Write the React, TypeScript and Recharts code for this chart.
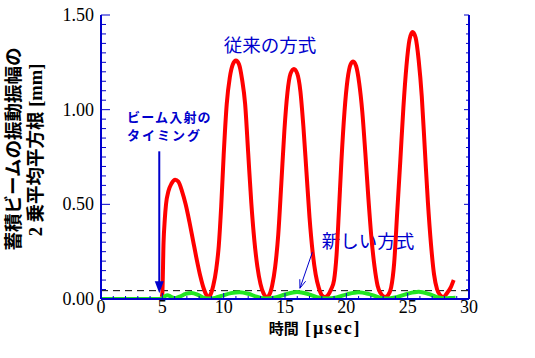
import { LineChart, Line, XAxis, YAxis, ReferenceLine, Customized } from 'recharts';

// 従来の方式 (red)
const redT = [4.95, 5.0, 5.1, 5.2, 5.3, 5.5, 5.75, 6.05, 6.3, 6.6, 6.9, 7.2, 7.5, 7.8, 8.1, 8.4, 8.6, 8.75,
  8.9, 9.15, 9.4, 9.6, 9.8, 10.0, 10.25, 10.5, 10.75, 11.0, 11.25, 11.5, 11.75, 12.0, 12.25, 12.5, 12.75, 13.0, 13.25, 13.5,
  13.7, 13.95, 14.2, 14.45, 14.7, 14.95, 15.2, 15.45, 15.73, 16.0, 16.25, 16.5, 16.75, 17.0, 17.25, 17.5, 17.75, 18.0, 18.25,
  18.5, 18.75, 19.0, 19.2, 19.4, 19.6, 19.85, 20.1, 20.35, 20.56, 20.8, 21.05, 21.3, 21.55, 21.8, 22.05, 22.3, 22.55, 22.8, 23.15,
  23.4, 23.65, 23.9, 24.15, 24.4, 24.65, 24.9, 25.15, 25.4, 25.65, 25.9, 26.15, 26.4, 26.65, 26.9, 27.15, 27.4, 27.65, 27.9,
  28.2, 28.5, 28.75];
const redV = [0.01, 0.03, 0.30, 0.42, 0.50, 0.57, 0.61, 0.63, 0.62, 0.57, 0.50, 0.41, 0.31, 0.21, 0.12, 0.05, 0.02, 0.01,
  0.02, 0.07, 0.16, 0.28, 0.49, 0.76, 1.03, 1.17, 1.24, 1.26, 1.24, 1.16, 1.03, 0.77, 0.51, 0.31, 0.17, 0.08, 0.03, 0.01,
  0.02, 0.07, 0.17, 0.34, 0.61, 0.89, 1.09, 1.19, 1.215, 1.19, 1.10, 0.91, 0.67, 0.43, 0.25, 0.13, 0.06, 0.02, 0.01,
  0.02, 0.05, 0.10, 0.23, 0.47, 0.73, 0.99, 1.16, 1.24, 1.255, 1.23, 1.14, 0.99, 0.77, 0.53, 0.32, 0.17, 0.07, 0.03, 0.01,
  0.02, 0.06, 0.19, 0.46, 0.73, 1.01, 1.23, 1.37, 1.41, 1.38, 1.26, 1.07, 0.79, 0.51, 0.29, 0.13, 0.05, 0.02, 0.01,
  0.03, 0.06, 0.10];

// 新しい方式 (green)
const greenT = [0, 4.9, 5.1, 5.4, 5.7, 6.0, 6.4, 6.9, 7.4, 7.9, 8.4, 8.8, 9.3, 9.9, 10.6, 11.3, 12.0, 12.7, 13.5,
  14.2, 15.0, 16.0, 16.8, 17.6, 18.4, 19.2, 20.1, 21.0, 21.8, 22.6, 23.3, 24.1, 25.0, 25.9, 26.7, 27.4, 27.9, 28.4, 28.9];
const greenV = [0, 0, 0.01, 0.02, 0.012, 0.004, 0.012, 0.027, 0.032, 0.022, 0.006, 0.002, 0.006, 0.018, 0.031, 0.036, 0.028, 0.012, 0.002,
  0.008, 0.024, 0.037, 0.028, 0.01, 0.002, 0.008, 0.026, 0.036, 0.027, 0.01, 0.002, 0.01, 0.028, 0.038, 0.027, 0.01, 0.004, 0.005, 0.006];

const threshold = 0.044;

const xTicks = [0, 1, 2, 3, 4, 5, 6, 7, 8, 9, 10, 11, 12, 13, 14, 15, 16, 17, 18, 19, 20, 21, 22, 23, 24, 25, 26, 27, 28, 29, 30];
const yTicks = [0, 0.05, 0.1, 0.15, 0.2, 0.25, 0.3, 0.35, 0.4, 0.45, 0.5, 0.55, 0.6, 0.65, 0.7, 0.75, 0.8, 0.85, 0.9, 0.95,
  1.0, 1.05, 1.1, 1.15, 1.2, 1.25, 1.3, 1.35, 1.4, 1.45, 1.5];

const redData = redT.map((t, i) => ({ t, v: redV[i] }));
const greenData = greenT.map((t, i) => ({ t, v: greenV[i] }));

const BLUE = '#0000cc';
const SERIF = "'Liberation Serif', 'Times New Roman', 'Noto Sans CJK JP', serif";
const CJK = "'Noto Sans CJK JP', sans-serif";

const isMajor = (v: number, step: number) => Math.abs(v / step - Math.round(v / step)) < 1e-6;

const LeftTick = (p: any) => {
  const v = p.payload.value;
  const major = isMajor(v, 0.5);
  return (
    <g>
      <line x1={p.x} y1={p.y} x2={p.x + (major ? 9 : 5)} y2={p.y} stroke={BLUE} />
      {major && (
        <text x={p.x - 7} y={p.y + 6} textAnchor="end" fontFamily={SERIF} fontSize={18} fill="#000">
          {v.toFixed(2)}
        </text>
      )}
    </g>
  );
};

const RightTick = (p: any) => {
  const major = isMajor(p.payload.value, 0.5);
  return <line x1={p.x} y1={p.y} x2={p.x - (major ? 5 : 3)} y2={p.y} stroke={BLUE} />;
};

const BottomTick = (p: any) => {
  const v = p.payload.value;
  const major = isMajor(v, 5);
  return (
    <g>
      <line x1={p.x} y1={p.y} x2={p.x} y2={p.y - (major ? 6 : 3)} stroke={BLUE} />
      {major && (
        <text x={p.x} y={p.y + 14} textAnchor="middle" fontFamily={SERIF} fontSize={18} fill="#000">
          {v}
        </text>
      )}
    </g>
  );
};

const TopTick = (p: any) => {
  const major = isMajor(p.payload.value, 5);
  return <line x1={p.x} y1={p.y} x2={p.x} y2={p.y + (major ? 5 : 3)} stroke={BLUE} />;
};

const FilledArrow = (p: any) => {
  const { x1, y1, x2, y2 } = p;
  return (
    <g>
      <line x1={x1} y1={y1} x2={x2} y2={y2 - 10} stroke={BLUE} strokeWidth={2} />
      <polygon points={`${x2 - 4.5},${y2 - 12} ${x2 + 4.5},${y2 - 12} ${x2},${y2}`} fill={BLUE} />
    </g>
  );
};

const OpenArrow = (p: any) => {
  const { x1, y1, x2, y2 } = p;
  const a = Math.atan2(y1 - y2, x1 - x2);
  const len = 9;
  const s = 0.35;
  return (
    <g stroke={BLUE} strokeWidth={1} fill="none">
      <line x1={x1} y1={y1} x2={x2} y2={y2} />
      <line x1={x2} y1={y2} x2={x2 + len * Math.cos(a + s)} y2={y2 + len * Math.sin(a + s)} />
      <line x1={x2} y1={y2} x2={x2 + len * Math.cos(a - s)} y2={y2 + len * Math.sin(a - s)} />
    </g>
  );
};

const Labels = () => (
  <g>
    <text transform="rotate(-90, 12, 149)" x={12} y={149} textAnchor="middle" dominantBaseline="central"
      fontFamily={CJK} fontWeight="bold" fontSize={18.5} fill="#000">蓄積ビームの振動振幅の</text>
    <text transform="rotate(-90, 36, 150)" x={36} y={150} textAnchor="middle" dominantBaseline="central"
      fontFamily={SERIF} fontWeight="bold" fontSize={18.5} fill="#000">2 乗平均平方根 [mm]</text>
    <text x={315} y={334} textAnchor="middle" fontFamily={SERIF} fontWeight="bold" fill="#000">
      <tspan fontSize={15} fontFamily={CJK}>時間</tspan>
      <tspan fontSize={18} letterSpacing={1.8}> [µsec]</tspan>
    </text>
    <text x={270} y={52} textAnchor="middle" fontFamily={CJK} fontSize={18.5} fill={BLUE}>従来の方式</text>
    <text x={368} y={248} textAnchor="middle" fontFamily={CJK} fontSize={18.5} fill={BLUE}>新しい方式</text>
    <text x={127} y={122} fontFamily={CJK} fontWeight="bold" fontSize={13} letterSpacing={1.2} fill={BLUE}>ビーム入射の</text>
    <text x={127} y={140} fontFamily={CJK} fontWeight="bold" fontSize={13} letterSpacing={2} fill={BLUE}>タイミング</text>
  </g>
);

export default function App() {
  return (
    <div style={{ position: 'absolute', left: 0, top: 0, background: '#fff' }}>
      <LineChart width={535} height={358} margin={{ top: 15, right: 0, bottom: 0, left: 0 }}>
        <XAxis dataKey="t" type="number" domain={[0, 30]} ticks={xTicks} interval={0} allowDataOverflow
          height={59} tickSize={0} tickMargin={0} tickLine={false} tick={<BottomTick />}
          axisLine={{ stroke: BLUE, strokeWidth: 2 }} />
        <XAxis xAxisId="top" orientation="top" dataKey="t" type="number" domain={[0, 30]} ticks={xTicks} interval={0}
          allowDataOverflow height={0} tickSize={0} tickMargin={0} tickLine={false} tick={<TopTick />}
          axisLine={{ stroke: BLUE, strokeWidth: 2 }} />
        <YAxis type="number" domain={[0, 1.5]} ticks={yTicks} interval={0} allowDataOverflow width={101}
          tickSize={0} tickMargin={0} tickLine={false} tick={<LeftTick />}
          axisLine={{ stroke: BLUE, strokeWidth: 2 }} />
        <YAxis yAxisId="right" orientation="right" type="number" domain={[0, 1.5]} ticks={yTicks} interval={0}
          allowDataOverflow width={66} tickSize={0} tickMargin={0} tickLine={false} tick={<RightTick />}
          axisLine={{ stroke: BLUE, strokeWidth: 2 }} />
        <ReferenceLine y={threshold} stroke="#000" strokeDasharray="7 5" strokeWidth={1} />
        <Line data={redData} dataKey="v" type="monotone" stroke="#ff0000" strokeWidth={4} dot={false}
          isAnimationActive={false} />
        <Line data={greenData} dataKey="v" type="monotone" stroke="#22e622" strokeWidth={4} dot={false}
          isAnimationActive={false} />
        <ReferenceLine segment={[{ x: 4.75, y: 0.78 }, { x: 4.75, y: 0.03 }]} shape={(p: any) => <FilledArrow {...p} />} />
        <ReferenceLine segment={[{ x: 17.23, y: 0.247 }, { x: 16.22, y: 0.057 }]} shape={(p: any) => <OpenArrow {...p} />} />
        <Customized component={<Labels />} />
      </LineChart>
    </div>
  );
}
